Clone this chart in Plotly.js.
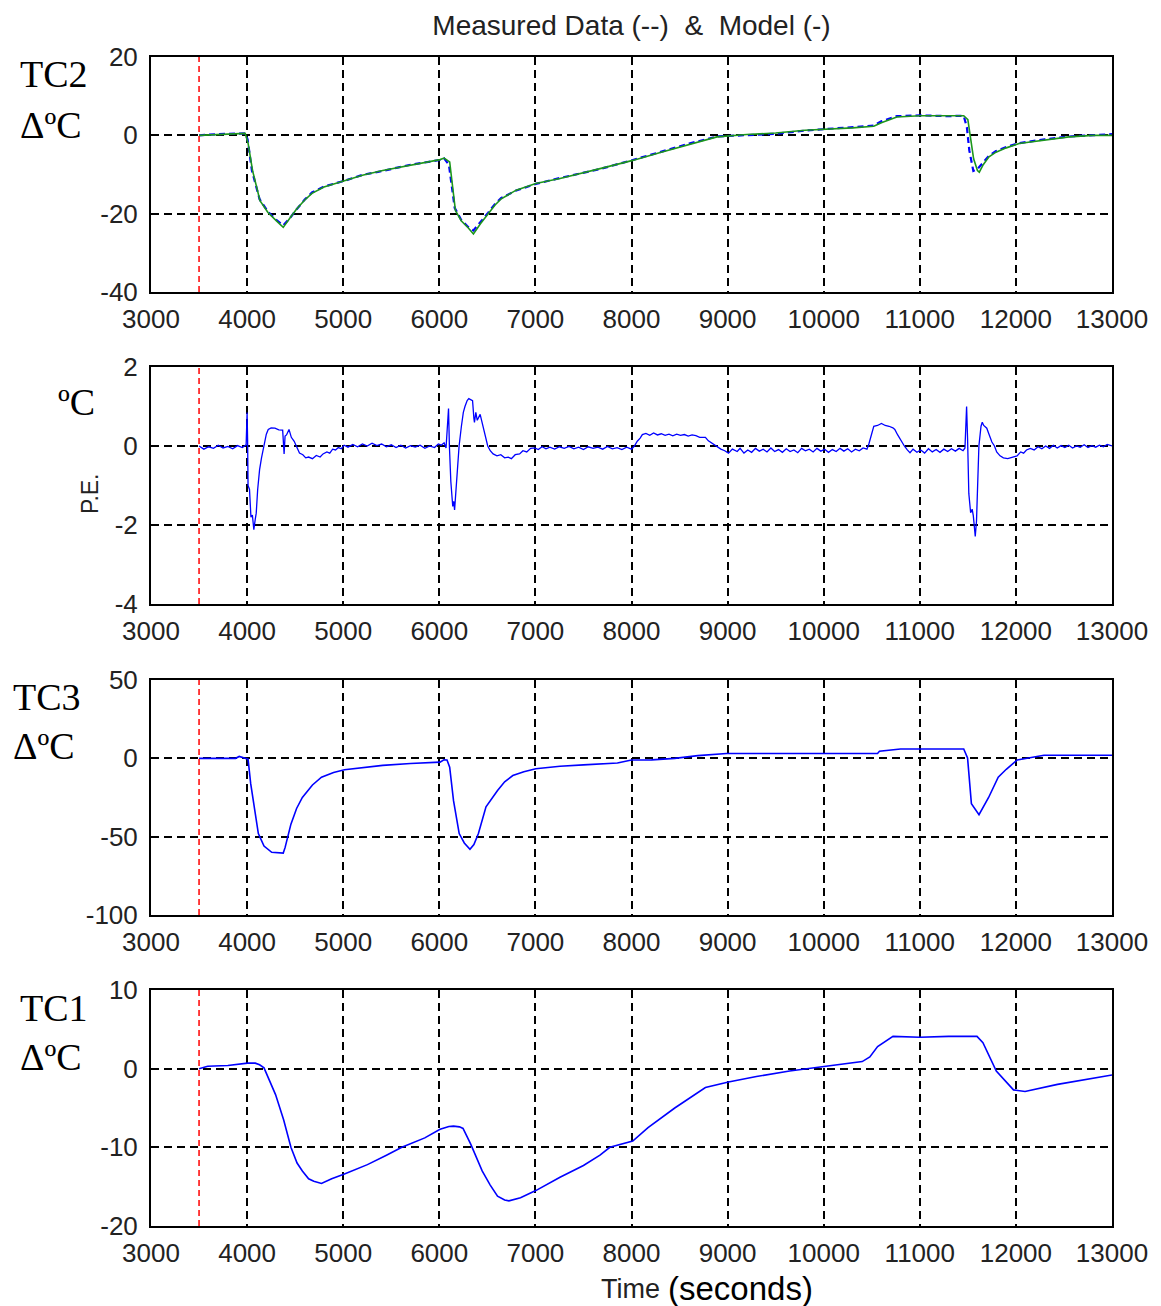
<!DOCTYPE html>
<html>
<head>
<meta charset="utf-8">
<script src="https://cdn.plot.ly/plotly-3.0.1.min.js"></script>
<style>html,body{margin:0;padding:0;background:#fff;}#chart{width:1161px;height:1306px;}</style>
</head>
<body>
<div id="chart"></div>
<script>
// ---------- data ----------
const chartTitle = "Measured Data (--)  &  Model (-)";
const xTicks = [3000,4000,5000,6000,7000,8000,9000,10000,11000,12000,13000];
const markerTime = 3500;

// TC2 (panel 1)
const tc2ModelT = [3500,3700,3980,4010,4057,4134,4217,4300,4376,4450,4515,4600,4675,4800,5013,5200,5411,5700,6008,6050,6108,6168,6228,6300,6355,6430,6507,6580,6645,6800,7004,7256,7673,8013,8300,8600,8889,9200,9500,9805,10100,10300,10521,10600,10761,11000,11300,11457,11500,11525,11560,11600,11619,11660,11720,11793,11900,12032,12300,12553,12800,13000];
const tc2ModelV = [0,0.2,0.5,-2,-9,-16.7,-19.7,-21.7,-23.5,-21,-18.8,-16.5,-14.8,-13.2,-11.5,-10.2,-9.0,-7.6,-6.2,-5.8,-6.8,-19.2,-21.8,-23.6,-25.2,-22.5,-20,-17.8,-16.2,-14.0,-12.3,-11.0,-8.5,-6.4,-4.4,-2.3,-0.4,0.2,0.6,1.3,1.6,1.9,2.3,3.2,4.7,5.0,5.0,5.0,4.0,0,-6,-9,-9.4,-7.5,-5.5,-4.3,-3.2,-2.1,-1.2,-0.4,0,0];
const tc2MeasT = [3500,3700,3980,4005,4050,4130,4217,4300,4376,4450,4515,4600,4675,4800,5013,5200,5411,5700,6008,6050,6100,6160,6228,6300,6355,6430,6507,6580,6645,6800,7004,7256,7673,8013,8300,8600,8889,9200,9500,9805,10100,10300,10521,10600,10761,11000,11300,11457,11490,11515,11557,11600,11660,11720,11793,11900,12032,12300,12553,12800,13000];
const tc2MeasV = [0,0.3,0.5,-1,-9,-16.3,-19.5,-21.5,-23.0,-21,-18.9,-16.4,-14.6,-13.1,-11.6,-10.1,-9.1,-7.5,-6.3,-5.9,-7.5,-18.5,-21.6,-23.4,-24.3,-22.2,-19.8,-17.5,-16.0,-14.1,-12.4,-10.9,-8.6,-6.3,-4.2,-2.1,-0.3,0.1,0.4,1.2,1.7,2.0,2.5,3.6,4.9,5.1,4.9,5.0,2,-3.8,-9.1,-8.6,-6.8,-5.2,-4.0,-3.0,-2.0,-1.0,-0.3,0.1,0.3];

// Prediction error (panel 2)
const peT = [3500,3550,3600,3650,3700,3750,3800,3850,3900,3950,3990,4000,4005,4010,4025,4040,4055,4070,4085,4095,4110,4130,4150,4176,4200,4220,4250,4290,4330,4370,4385,4395,4410,4436,4460,4490,4515,4545,4580,4610,4640,4680,4720,4760,4790,4830,4860,4890,4920,4950,4980,5010,5050,5100,5150,5200,5250,5300,5350,5400,5450,5500,5550,5600,5650,5700,5750,5800,5850,5900,5950,5990,6020,6050,6070,6085,6096,6105,6120,6140,6150,6159,6175,6190,6206,6230,6250,6267,6290,6307,6330,6346,6360,6366,6380,6395,6425,6450,6480,6504,6530,6560,6600,6640,6680,6717,6750,6790,6836,6870,6910,6950,6992,7030,7070,7110,7150,7200,7250,7300,7350,7400,7450,7500,7550,7600,7650,7700,7750,7800,7850,7900,7950,8000,8030,8060,8090,8113,8150,8190,8230,8270,8310,8350,8390,8430,8470,8510,8550,8590,8630,8670,8710,8769,8800,8850,8889,8930,8970,9009,9050,9100,9130,9170,9210,9250,9290,9330,9370,9410,9450,9490,9530,9570,9610,9650,9690,9730,9770,9810,9850,9890,9930,9970,10010,10050,10090,10130,10170,10210,10250,10290,10330,10370,10410,10450,10470,10500,10521,10560,10601,10640,10680,10720,10740,10770,10800,10839,10870,10898,10930,10970,11010,11050,11090,11130,11170,11210,11250,11290,11330,11370,11410,11450,11470,11477,11487,11497,11510,11529,11545,11557,11567,11577,11590,11600,11615,11637,11650,11665,11697,11720,11750,11777,11800,11835,11870,11915,11960,12012,12050,12080,12110,12150,12190,12230,12270,12310,12350,12390,12430,12470,12510,12550,12590,12630,12670,12710,12750,12790,12830,12870,12910,12950,13000];
const peV = [0.0,-0.08,-0.02,-0.06,0.02,-0.05,-0.01,-0.07,0.01,-0.04,0.03,0.85,0.2,-1.0,-1.1,-1.8,-1.75,-2.12,-1.85,-1.7,-1.1,-0.6,-0.3,0.0,0.3,0.42,0.46,0.45,0.41,0.40,-0.2,0.25,0.28,0.42,0.22,0.12,0.0,-0.18,-0.22,-0.3,-0.28,-0.32,-0.24,-0.28,-0.2,-0.15,-0.18,-0.08,-0.1,-0.04,-0.07,0.02,-0.03,0.04,-0.02,0.05,0.0,0.07,0.01,0.05,-0.02,0.03,-0.04,0.02,-0.05,0.01,-0.03,0.02,-0.06,0.0,-0.04,0.05,0.02,0.08,-0.05,0.55,0.95,0.0,-0.9,-1.53,-1.4,-1.62,-1.0,-0.4,0.0,0.5,0.85,1.0,1.15,1.2,1.18,1.15,0.7,0.6,0.85,0.65,0.8,0.55,0.25,0.0,-0.12,-0.2,-0.25,-0.22,-0.3,-0.28,-0.32,-0.22,-0.2,-0.12,-0.15,-0.06,-0.05,-0.09,-0.02,-0.07,-0.03,-0.08,-0.02,-0.06,-0.01,-0.07,-0.03,-0.09,-0.02,-0.06,-0.03,-0.08,-0.01,-0.07,-0.04,-0.09,-0.03,-0.08,0.0,0.12,0.2,0.29,0.32,0.27,0.33,0.28,0.31,0.27,0.3,0.26,0.3,0.27,0.29,0.25,0.28,0.26,0.22,0.22,0.13,0.05,-0.02,-0.08,-0.12,-0.18,-0.08,-0.14,-0.06,-0.18,-0.1,-0.16,-0.06,-0.13,-0.08,-0.15,-0.05,-0.14,-0.09,-0.16,-0.07,-0.14,-0.1,-0.17,-0.06,-0.12,-0.08,-0.15,-0.06,-0.13,-0.08,-0.16,-0.09,-0.14,-0.06,-0.13,-0.07,-0.15,-0.08,-0.12,-0.05,-0.08,0.05,0.35,0.5,0.52,0.57,0.52,0.5,0.46,0.42,0.28,0.15,0.0,-0.1,-0.17,-0.08,-0.16,-0.1,-0.18,-0.07,-0.15,-0.09,-0.16,-0.08,-0.14,-0.07,-0.13,-0.06,-0.12,-0.05,0.4,1.0,0.2,-1.2,-1.69,-1.6,-1.77,-2.0,-2.29,-1.9,-1.2,0.0,0.5,0.6,0.52,0.45,0.3,0.1,0.0,-0.15,-0.25,-0.3,-0.32,-0.28,-0.25,-0.15,-0.18,-0.1,-0.06,-0.1,-0.02,-0.07,0.0,-0.06,0.02,-0.05,0.01,-0.04,0.02,-0.05,0.0,-0.03,0.03,-0.04,0.01,-0.03,0.02,-0.02,0.04,0.0];

// TC3 (panel 3)
const tc3T = [3500,3700,3880,3918,3960,4010,4037,4077,4117,4176,4256,4376,4395,4456,4515,4575,4680,4774,4900,5013,5200,5411,5700,6008,6048,6080,6108,6148,6207,6260,6319,6360,6407,6486,6606,6680,6765,6880,7004,7256,7500,7672,7853,8000,8210,8450,8690,8989,9500,10000,10560,10580,10799,11200,11457,11497,11537,11616,11716,11816,11900,12014,12153,12292,13000];
const tc3V = [0,0,0,1.2,0.5,-0.5,-16,-33,-48,-56,-60,-60.5,-57,-42,-32,-25,-17,-12,-9,-7.3,-6,-4.5,-3.3,-2.4,-0.9,-1,-5.6,-27,-48,-54,-58,-55,-48,-31,-20.5,-15,-11,-8.5,-6.6,-5.1,-4.2,-3.4,-3.0,-1.1,-1,0,1.7,3.1,3.1,3.1,3.1,4.5,6,6,6,0.3,-29,-36,-25,-12,-7,-1,0.4,2,2];

// TC1 (panel 4)
const tc1T = [3500,3590,3800,4005,4085,4130,4176,4230,4296,4380,4456,4520,4575,4640,4694,4774,4880,5013,5252,5450,5610,5849,6008,6100,6148,6210,6247,6327,6446,6530,6606,6680,6725,6845,7004,7256,7500,7672,7775,8013,8172,8450,8769,9009,9300,9645,10004,10401,10480,10561,10721,11000,11300,11595,11657,11796,11975,12095,12433,13000];
const tc1V = [0,0.3,0.4,0.7,0.7,0.5,0.1,-1.5,-3.3,-6.5,-10,-12,-13,-14,-14.3,-14.6,-14,-13.4,-12.2,-11,-10,-8.8,-7.7,-7.35,-7.3,-7.4,-7.6,-9.6,-13,-14.8,-16.2,-16.7,-16.8,-16.4,-15.5,-13.8,-12.3,-11,-10,-9.2,-7.5,-5,-2.4,-1.7,-1.0,-0.3,0.3,0.9,1.5,2.8,4.1,4.0,4.1,4.1,3.3,-0.3,-2.7,-2.9,-2.0,-0.8];

const yRanges = [[-40,20],[-4,2],[-100,50],[-20,10]];
const yTicks = [[-40,-20,0,20],[-4,-2,0,2],[-100,-50,0,50],[-20,-10,0,10]];

// ---------- layout ----------
const H = 1306;
const panelPx = [[57,292],[367,604],[680,915],[990,1226]];
const plotL = 151, plotW = 961;
const px2x = p => (p - plotL) / plotW;
const py2y = p => 1 - p / H;

const tickFont = {family: "Liberation Sans, Arial, sans-serif", size: 26, color: "#222"};
const blue = "#0000ff", green = "#1c961c", red = "#ff0000";

function xaxisCfg(i) {
  return {
    domain: [0, 1], anchor: "y" + (i === 0 ? "" : i + 1),
    range: [3000, 13000], tickmode: "array", tickvals: xTicks, ticktext: xTicks.map(String),
    showline: true, mirror: true, linecolor: "#000", linewidth: 2,
    showgrid: true, gridcolor: "#000", gridwidth: 2, griddash: "8px,5px",
    zeroline: false, ticks: "", tickfont: tickFont, ticklabelstandoff: 3, fixedrange: true
  };
}
function yaxisCfg(i) {
  const p = panelPx[i];
  return {
    domain: [py2y(p[1]), py2y(p[0])], anchor: "x" + (i === 0 ? "" : i + 1),
    range: yRanges[i], tickmode: "array", tickvals: yTicks[i], ticktext: yTicks[i].map(String),
    showline: true, mirror: true, linecolor: "#000", linewidth: 2,
    showgrid: true, gridcolor: "#000", gridwidth: 2, griddash: "8px,5px",
    zeroline: false, ticks: "", tickfont: tickFont, ticklabelstandoff: 6, fixedrange: true
  };
}

const traces = [
  {x: tc2MeasT, y: tc2MeasV, xaxis: "x", yaxis: "y", mode: "lines", line: {color: blue, width: 2.2, dash: "6px,4px"}, name: "TC2 measured"},
  {x: tc2ModelT, y: tc2ModelV, xaxis: "x", yaxis: "y", mode: "lines", line: {color: green, width: 1.6}, name: "TC2 model"},
  {x: peT, y: peV, xaxis: "x2", yaxis: "y2", mode: "lines", line: {color: blue, width: 1.3}, name: "P.E."},
  {x: tc3T, y: tc3V, xaxis: "x3", yaxis: "y3", mode: "lines", line: {color: blue, width: 1.6}, name: "TC3"},
  {x: tc1T, y: tc1V, xaxis: "x4", yaxis: "y4", mode: "lines", line: {color: blue, width: 1.6}, name: "TC1"}
];

const shapes = [0,1,2,3].map(i => ({
  type: "line", xref: "x" + (i === 0 ? "" : i + 1), yref: "y" + (i === 0 ? "" : i + 1) + " domain",
  x0: markerTime, x1: markerTime, y0: 0, y1: 1,
  line: {color: red, width: 1.5, dash: "6px,4px"}
}));

const serif = {family: "Liberation Serif, Times New Roman, serif", size: 38, color: "#000"};
function lab(text, left, cy, font) {
  return {text: text, xref: "paper", yref: "paper", x: px2x(left), y: py2y(cy),
          xanchor: "left", yanchor: "middle", showarrow: false, font: font || serif};
}
const annotations = [
  lab("TC2", 18, 74), lab("\u0394\u00baC", 18, 125),
  lab("\u00baC", 56, 402),
  lab("TC3", 11, 697), lab("\u0394\u00baC", 11, 746),
  lab("TC1", 18, 1008), lab("\u0394\u00baC", 18, 1057),
  {text: "P.E.", xref: "paper", yref: "paper", x: px2x(90), y: py2y(494), textangle: -90,
   xanchor: "center", yanchor: "middle", showarrow: false,
   font: {family: "Liberation Sans, Arial, sans-serif", size: 23, color: "#222"}},
  {text: "Time", xref: "paper", yref: "paper", x: px2x(662), y: py2y(1289),
   xanchor: "right", yanchor: "middle", showarrow: false,
   font: {family: "Liberation Sans, Arial, sans-serif", size: 27, color: "#222"}},
  {text: "(seconds)", xref: "paper", yref: "paper", x: px2x(666), y: py2y(1288),
   xanchor: "left", yanchor: "middle", showarrow: false,
   font: {family: "Liberation Sans, Arial, sans-serif", size: 33, color: "#000"}}
];

const layout = {
  width: 1161, height: 1306,
  margin: {l: 151, r: 49, t: 0, b: 0},
  paper_bgcolor: "#fff", plot_bgcolor: "#fff",
  showlegend: false,
  title: {text: chartTitle, x: 0.5, xref: "paper", xanchor: "center", y: py2y(25), yanchor: "middle",
          font: {family: "Liberation Sans, Arial, sans-serif", size: 28, color: "#222"}},
  xaxis: xaxisCfg(0), xaxis2: xaxisCfg(1), xaxis3: xaxisCfg(2), xaxis4: xaxisCfg(3),
  yaxis: yaxisCfg(0), yaxis2: yaxisCfg(1), yaxis3: yaxisCfg(2), yaxis4: yaxisCfg(3),
  shapes: shapes, annotations: annotations
};

Plotly.newPlot("chart", traces, layout, {staticPlot: true, displayModeBar: false});
</script>
</body>
</html>
